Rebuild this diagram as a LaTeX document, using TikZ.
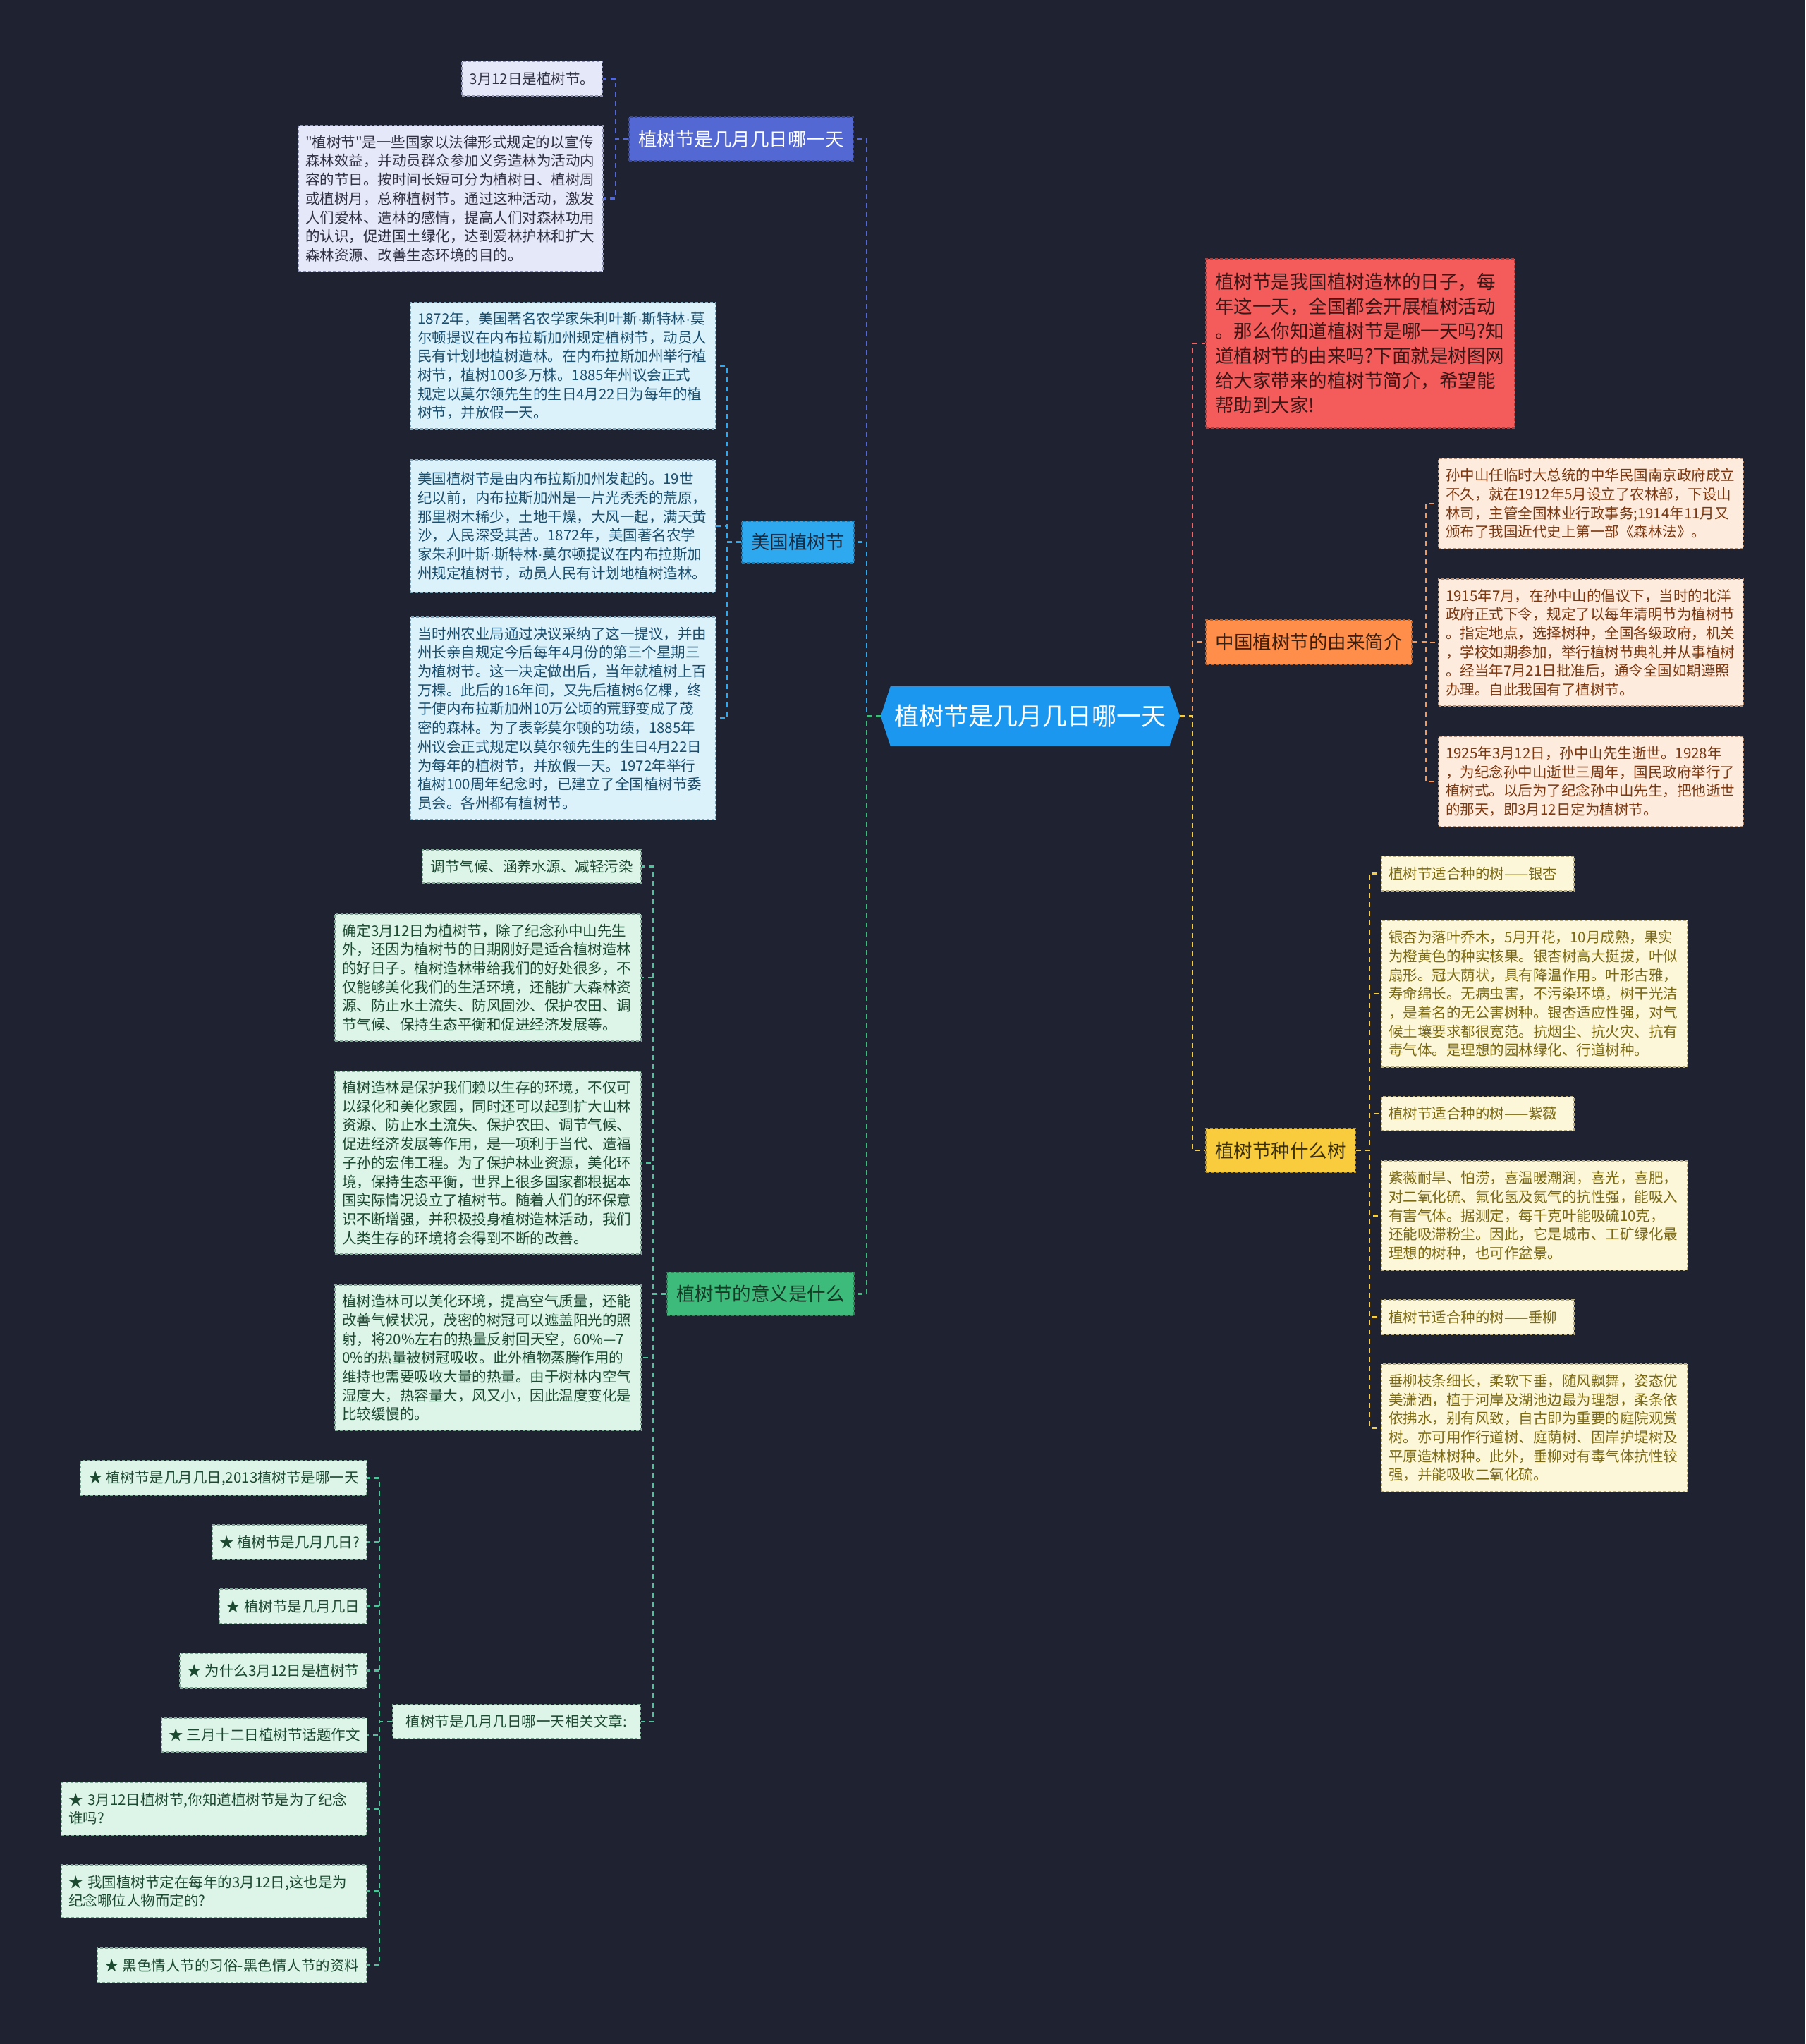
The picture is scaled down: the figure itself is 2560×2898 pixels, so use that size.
\documentclass[tikz,border=0pt]{standalone}
\usepackage{fontspec}
\setmainfont{Noto Sans CJK SC}
\newfontfamily\qfont{Noto Sans CJK SC}
\newfontfamily\latfont{Liberation Sans}
\newcommand\mdot{{\latfont ·}}
\newcommand\sq{{\qfont\symbol{34}}}
\usetikzlibrary{backgrounds}
\definecolor{bgC}{HTML}{1F2230}
\definecolor{ctrC}{HTML}{1C97EF}
\definecolor{topC}{HTML}{5468D4}
\definecolor{lavF}{HTML}{E5E8F8}
\definecolor{lavD}{HTML}{8E93B4}
\definecolor{lavT}{HTML}{2F3042}
\definecolor{meiC}{HTML}{2EA8EE}
\definecolor{meiT}{HTML}{1A2B40}
\definecolor{cyaF}{HTML}{DCF2FB}
\definecolor{cyaD}{HTML}{7FA6B8}
\definecolor{cyaT}{HTML}{1A4E6E}
\definecolor{grnC}{HTML}{3DBB7A}
\definecolor{grnL}{HTML}{4CC49A}
\definecolor{grnT}{HTML}{173A27}
\definecolor{minF}{HTML}{DDF4E8}
\definecolor{minD}{HTML}{7FA894}
\definecolor{minT}{HTML}{1C4A30}
\definecolor{redC}{HTML}{F45B5B}
\definecolor{redL}{HTML}{F06565}
\definecolor{redT}{HTML}{3A1818}
\definecolor{oraC}{HTML}{FF8E4A}
\definecolor{oraL}{HTML}{F4995A}
\definecolor{oraT}{HTML}{3B2010}
\definecolor{pchF}{HTML}{FDEBDD}
\definecolor{pchD}{HTML}{B8937A}
\definecolor{pchT}{HTML}{7B3810}
\definecolor{yelC}{HTML}{F8CC3C}
\definecolor{yelL}{HTML}{F5CC45}
\definecolor{yelT}{HTML}{3A3010}
\definecolor{crmF}{HTML}{FDF7DA}
\definecolor{crmD}{HTML}{B8AE80}
\definecolor{crmT}{HTML}{7B6A12}
\tikzset{
  base/.style={rectangle, inner xsep=10pt, inner ysep=0pt, align=left, line width=1.3pt, dash pattern=on 4pt off 3pt},
  sm/.style={font=\fontsize{20.5pt}{26.7pt}\selectfont},
  md/.style={font=\fontsize{26.5pt}{35pt}\selectfont},
  lav/.style={base, sm, fill=lavF, draw=lavD, text=lavT},
  cya/.style={base, sm, fill=cyaF, draw=cyaD, text=cyaT},
  mnt/.style={base, sm, fill=minF, draw=minD, text=minT},
  pch/.style={base, sm, fill=pchF, draw=pchD, text=pchT},
  crm/.style={base, sm, fill=crmF, draw=crmD, text=crmT},
  topnode/.style={base, md, fill=topC, draw=topC!70!black, text=white, align=center},
  meinode/.style={base, md, fill=meiC, draw=meiC!70!black, text=meiT, align=center},
  grnnode/.style={base, md, fill=grnC, draw=grnC!70!black, text=grnT, align=center},
  oranode/.style={base, md, fill=oraC, draw=oraC!70!black, text=oraT, align=center},
  yelnode/.style={base, md, fill=yelC, draw=yelC!70!black, text=yelT, align=center},
  rednode/.style={base, md, inner xsep=13pt, fill=redC, draw=redC!70!black, text=redT},
  ctrnode/.style={rectangle, inner sep=0pt, text=white, font=\fontsize{35pt}{40pt}\selectfont},
  conn/.style={line width=2.2pt, dash pattern=on 7pt off 6pt},
}
\begin{document}
\begin{tikzpicture}[x=1pt,y=-1pt]
\useasboundingbox (0,0) rectangle (2560,2898);
\begin{scope}[on background layer]
\fill[bgC] (0,0) rectangle (2560,2898);
\end{scope}

% centre
\node[ctrnode, minimum width=424pt, minimum height=85pt] (ctr) at (1461,1015.5) {植树节是几月几日哪一天};
\begin{scope}[on background layer]
\fill[ctrC] ([xshift=14pt]ctr.north west) -- ([xshift=-15pt]ctr.north east) -- (ctr.east)
  -- ([xshift=-15pt]ctr.south east) -- ([xshift=14pt]ctr.south west) -- (ctr.west) -- cycle;
\end{scope}

% ---- left: top branch
\node[topnode, minimum width=318pt, minimum height=62pt] (top) at (1051,197) {植树节是几月几日哪一天};
\node[lav, minimum width=199pt, minimum height=49pt, align=center] (L1) at (754.5,111.5) {3月12日是植树节。};
\node[lav, minimum width=432pt, minimum height=207pt, text width=412pt] (L2) at (639,281.5) {\sq 植树节\sq 是一些国家以法律形式规定的以宣传\\森林效益，并动员群众参加义务造林为活动内\\容的节日。按时间长短可分为植树日、植树周\\或植树月，总称植树节。通过这种活动，激发\\人们爱林、造林的感情，提高人们对森林功用\\的认识，促进国土绿化，达到爱林护林和扩大\\森林资源、改善生态环境的目的。};

% ---- left: 美国植树节
\node[meinode, minimum width=159pt, minimum height=59pt] (mei) at (1131.5,768.5) {美国植树节};
\node[cya, minimum width=433pt, minimum height=179pt, text width=413pt] (A1) at (798.5,518.5) {1872年，美国著名农学家朱利叶斯\mdot 斯特林\mdot 莫\\尔顿提议在内布拉斯加州规定植树节，动员人\\民有计划地植树造林。在内布拉斯加州举行植\\树节，植树100多万株。1885年州议会正式\\规定以莫尔领先生的生日4月22日为每年的植\\树节，并放假一天。};
\node[cya, minimum width=433pt, minimum height=188pt, text width=413pt] (A2) at (798.5,746) {美国植树节是由内布拉斯加州发起的。19世\\纪以前，内布拉斯加州是一片光秃秃的荒原，\\那里树木稀少，土地干燥，大风一起，满天黄\\沙，人民深受其苦。1872年，美国著名农学\\家朱利叶斯\mdot 斯特林\mdot 莫尔顿提议在内布拉斯加\\州规定植树节，动员人民有计划地植树造林。};
\node[cya, minimum width=433pt, minimum height=287pt, text width=413pt] (A3) at (798.5,1018.5) {当时州农业局通过决议采纳了这一提议，并由\\州长亲自规定今后每年4月份的第三个星期三\\为植树节。这一决定做出后，当年就植树上百\\万棵。此后的16年间，又先后植树6亿棵，终\\于使内布拉斯加州10万公顷的荒野变成了茂\\密的森林。为了表彰莫尔顿的功绩，1885年\\州议会正式规定以莫尔领先生的生日4月22日\\为每年的植树节，并放假一天。1972年举行\\植树100周年纪念时，已建立了全国植树节委\\员会。各州都有植树节。};

% ---- left: 植树节的意义是什么
\node[grnnode, minimum width=265pt, minimum height=61pt] (yy) at (1078.5,1834.5) {植树节的意义是什么};
\node[mnt, minimum width=310pt, minimum height=47pt, align=center] (B1) at (754,1228.5) {调节气候、涵养水源、减轻污染};
\node[mnt, minimum width=434pt, minimum height=180pt, text width=414pt] (B2) at (692,1386) {确定3月12日为植树节，除了纪念孙中山先生\\外，还因为植树节的日期刚好是适合植树造林\\的好日子。植树造林带给我们的好处很多，不\\仅能够美化我们的生活环境，还能扩大森林资\\源、防止水土流失、防风固沙、保护农田、调\\节气候、保持生态平衡和促进经济发展等。};
\node[mnt, minimum width=434pt, minimum height=259pt, text width=414pt] (B3) at (692,1648.5) {植树造林是保护我们赖以生存的环境，不仅可\\以绿化和美化家园，同时还可以起到扩大山林\\资源、防止水土流失、保护农田、调节气候、\\促进经济发展等作用，是一项利于当代、造福\\子孙的宏伟工程。为了保护林业资源，美化环\\境，保持生态平衡，世界上很多国家都根据本\\国实际情况设立了植树节。随着人们的环保意\\识不断增强，并积极投身植树造林活动，我们\\人类生存的环境将会得到不断的改善。};
\node[mnt, minimum width=434pt, minimum height=206pt, text width=414pt] (B4) at (692,1925) {植树造林可以美化环境，提高空气质量，还能\\改善气候状况，茂密的树冠可以遮盖阳光的照\\射，将20\%左右的热量反射回天空，60\%—7\\0\%的热量被树冠吸收。此外植物蒸腾作用的\\维持也需要吸收大量的热量。由于树林内空气\\湿度大，热容量大，风又小，因此温度变化是\\比较缓慢的。};
\node[mnt, minimum width=351pt, minimum height=48pt, align=center] (rel) at (732.5,2441) {植树节是几月几日哪一天相关文章:};

\node[mnt, minimum width=406pt, minimum height=49pt, align=center] (C1) at (317,2095.5) {★ 植树节是几月几日,2013植树节是哪一天};
\node[mnt, minimum width=219pt, minimum height=49pt, align=center] (C2) at (410.5,2186.5) {★ 植树节是几月几日?};
\node[mnt, minimum width=209pt, minimum height=49pt, align=center] (C3) at (415.5,2277.5) {★ 植树节是几月几日};
\node[mnt, minimum width=265pt, minimum height=49pt, align=center] (C4) at (387.5,2368.5) {★ 为什么3月12日是植树节};
\node[mnt, minimum width=290pt, minimum height=48pt, align=center] (C5) at (375,2460) {★ 三月十二日植树节话题作文};
\node[mnt, minimum width=433pt, minimum height=75pt, text width=413pt] (C6) at (303.5,2564.5) {★ 3月12日植树节,你知道植树节是为了纪念\\谁吗?};
\node[mnt, minimum width=433pt, minimum height=75pt, text width=413pt] (C7) at (303.5,2681.5) {★ 我国植树节定在每年的3月12日,这也是为\\纪念哪位人物而定的?};
\node[mnt, minimum width=382pt, minimum height=49pt, align=center] (C8) at (329,2786.5) {★ 黑色情人节的习俗-黑色情人节的资料};

% ---- right
\node[rednode, minimum width=438pt, minimum height=240pt, text width=412pt] (red) at (1929,487) {植树节是我国植树造林的日子，每\\年这一天，全国都会开展植树活动\\。那么你知道植树节是哪一天吗?知\\道植树节的由来吗?下面就是树图网\\给大家带来的植树节简介，希望能\\帮助到大家!};

\node[oranode, minimum width=292pt, minimum height=63pt] (ora) at (1856,910.5) {中国植树节的由来简介};
\node[pch, minimum width=432pt, minimum height=128pt, text width=412pt] (S1) at (2256,714) {孙中山任临时大总统的中华民国南京政府成立\\不久，就在1912年5月设立了农林部，下设山\\林司，主管全国林业行政事务;1914年11月又\\颁布了我国近代史上第一部《森林法》。};
\node[pch, minimum width=432pt, minimum height=180pt, text width=412pt] (S2) at (2256,911) {1915年7月，在孙中山的倡议下，当时的北洋\\政府正式下令，规定了以每年清明节为植树节\\。指定地点，选择树种，全国各级政府，机关\\，学校如期参加，举行植树节典礼并从事植树\\。经当年7月21日批准后，通令全国如期遵照\\办理。自此我国有了植树节。};
\node[pch, minimum width=432pt, minimum height=128pt, text width=412pt] (S3) at (2256,1108) {1925年3月12日，孙中山先生逝世。1928年\\，为纪念孙中山逝世三周年，国民政府举行了\\植树式。以后为了纪念孙中山先生，把他逝世\\的那天，即3月12日定为植树节。};

\node[yelnode, minimum width=212pt, minimum height=62pt] (yel) at (1816,1631) {植树节种什么树};
\node[crm, minimum width=273pt, minimum height=49pt, text width=253pt] (T1) at (2095.5,1238.5) {植树节适合种的树——银杏};
\node[crm, minimum width=434pt, minimum height=208pt, text width=414pt] (T2) at (2176,1409) {银杏为落叶乔木，5月开花，10月成熟，果实\\为橙黄色的种实核果。银杏树高大挺拔，叶似\\扇形。冠大荫状，具有降温作用。叶形古雅，\\寿命绵长。无病虫害，不污染环境，树干光洁\\，是着名的无公害树种。银杏适应性强，对气\\候土壤要求都很宽范。抗烟尘、抗火灾、抗有\\毒气体。是理想的园林绿化、行道树种。};
\node[crm, minimum width=273pt, minimum height=48pt, text width=253pt] (T3) at (2095.5,1579) {植树节适合种的树——紫薇};
\node[crm, minimum width=434pt, minimum height=155pt, text width=414pt] (T4) at (2176,1723.5) {紫薇耐旱、怕涝，喜温暖潮润，喜光，喜肥，\\对二氧化硫、氟化氢及氮气的抗性强，能吸入\\有害气体。据测定，每千克叶能吸硫10克，\\还能吸滞粉尘。因此，它是城市、工矿绿化最\\理想的树种，也可作盆景。};
\node[crm, minimum width=273pt, minimum height=49pt, text width=253pt] (T5) at (2095.5,1867.5) {植树节适合种的树——垂柳};
\node[crm, minimum width=434pt, minimum height=181pt, text width=414pt] (T6) at (2176,2024.5) {垂柳枝条细长，柔软下垂，随风飘舞，姿态优\\美潇洒，植于河岸及湖池边最为理想，柔条依\\依拂水，别有风致，自古即为重要的庭院观赏\\树。亦可用作行道树、庭荫树、固岸护堤树及\\平原造林树种。此外，垂柳对有毒气体抗性较\\强，并能吸收二氧化硫。};

% ---- connectors
\draw[conn, topC] (ctr.west) -- ++(-20,0) |- (top.east);
\draw[conn, meiC] (ctr.west) -- ++(-20,0) |- (mei.east);
\draw[conn, grnC] (ctr.west) -- ++(-20,0) |- (yy.east);
\foreach \c in {L1,L2} \draw[conn, topC] (top.west) -- ++(-18,0) |- (\c.east);
\foreach \c in {A1,A2,A3} \draw[conn, meiC] (mei.west) -- ++(-20,0) |- (\c.east);
\foreach \c in {B1,B2,B3,B4,rel} \draw[conn, grnL] (yy.west) -- ++(-19,0) |- (\c.east);
\foreach \c in {C1,C2,C3,C4,C5,C6,C7,C8} \draw[conn, grnL] (rel.west) -- ++(-18,0) |- (\c.east);
\draw[conn, redL] (ctr.east) -- ++(18,0) |- (red.west);
\draw[conn, oraL] (ctr.east) -- ++(18,0) |- (ora.west);
\draw[conn, yelL] (ctr.east) -- ++(18,0) |- (yel.west);
\foreach \c in {S1,S2,S3} \draw[conn, oraL] (ora.east) -- ++(19,0) |- (\c.west);
\foreach \c in {T1,T2,T3,T4,T5,T6} \draw[conn, yelL] (yel.east) -- ++(19,0) |- (\c.west);
\end{tikzpicture}
\end{document}
